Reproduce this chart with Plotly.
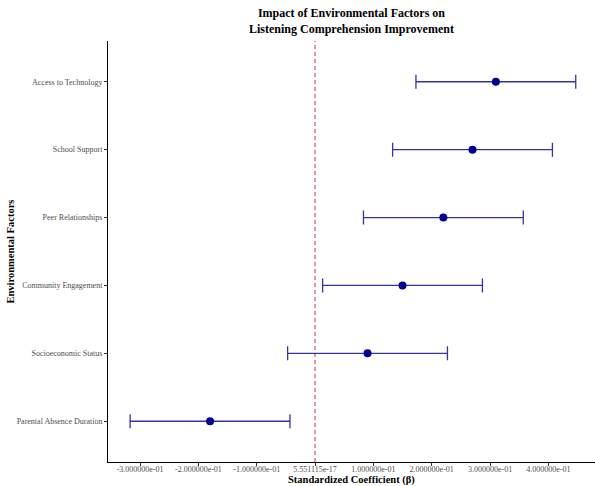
import plotly.graph_objects as go

# Environmental factors (bottom to top) with standardized coefficients and 95% CIs
factors = [
    "Parental Absence Duration",
    "Socioeconomic Status",
    "Community Engagement",
    "Peer Relationships",
    "School Support",
    "Access to Technology",
]
estimates = [-0.18, 0.09, 0.15, 0.22, 0.27, 0.31]
ci_lower = [-0.317, -0.047, 0.013, 0.083, 0.133, 0.173]
ci_upper = [-0.043, 0.227, 0.287, 0.357, 0.407, 0.447]

x_ticks = [-0.3, -0.2, -0.1, 5.551115e-17, 0.1, 0.2, 0.3, 0.4]
x_tick_labels = [
    "-3.000000e-01", "-2.000000e-01", "-1.000000e-01", "5.551115e-17",
    "1.000000e-01", "2.000000e-01", "3.000000e-01", "4.000000e-01",
]

ypos = list(range(1, len(factors) + 1))
err_plus = [u - e for u, e in zip(ci_upper, estimates)]
err_minus = [e - l for e, l in zip(estimates, ci_lower)]

serif = "Liberation Serif, Times New Roman, serif"
W, H = 595, 486
M_L, M_R, M_T, M_B = 108, 0, 41, 24
plot_w = W - M_L - M_R
plot_h = H - M_T - M_B

fig = go.Figure()

fig.add_trace(go.Scatter(
    x=estimates,
    y=ypos,
    mode="markers",
    marker=dict(color="#00008B", size=8),
    error_x=dict(
        type="data",
        symmetric=False,
        array=err_plus,
        arrayminus=err_minus,
        color="rgba(0,0,139,0.8)",
        thickness=1.3,
        width=7,
    ),
    showlegend=False,
    hoverinfo="skip",
))

# Reference line at zero effect
fig.add_shape(
    type="line", xref="x", yref="paper",
    x0=0, x1=0, y0=0, y1=1,
    line=dict(color="rgba(178,34,34,0.6)", width=1.5, dash="4px,3px"),
    layer="below",
)

axis_common = dict(
    showgrid=False,
    zeroline=False,
    showline=True,
    linecolor="black",
    linewidth=1,
    ticks="outside",
    ticklen=3,
    tickcolor="#333333",
    tickfont=dict(family=serif, size=8, color="#4d4d4d"),
    automargin=False,
)

fig.update_layout(
    width=W,
    height=H,
    margin=dict(l=M_L, r=M_R, t=M_T, b=M_B),
    paper_bgcolor="white",
    plot_bgcolor="white",
    font=dict(family=serif, color="#4d4d4d", size=8),
    xaxis=dict(
        range=[-0.355, 0.48],
        tickvals=x_ticks,
        ticktext=x_tick_labels,
        tickangle=0,
        ticklabelstandoff=-4,
        **axis_common,
    ),
    yaxis=dict(
        range=[0.4, 6.6],
        tickvals=ypos,
        ticktext=factors,
        **axis_common,
    ),
    annotations=[
        dict(
            text="<b>Impact of Environmental Factors on<br>Listening Comprehension Improvement</b>",
            xref="paper", yref="paper",
            x=0.5, y=1 + 3 / plot_h,
            xanchor="center", yanchor="bottom",
            showarrow=False,
            font=dict(family=serif, size=12, color="black"),
        ),
        dict(
            text="<b>Standardized Coefficient (β)</b>",
            xref="paper", yref="paper",
            x=0.5, y=-18 / plot_h,
            xanchor="center", yanchor="middle",
            showarrow=False,
            font=dict(family=serif, size=10.5, color="black"),
        ),
        dict(
            text="<b>Environmental Factors</b>",
            xref="paper", yref="paper",
            x=(10 - M_L) / plot_w, y=0.5,
            xanchor="center", yanchor="middle",
            textangle=-90,
            showarrow=False,
            font=dict(family=serif, size=10.5, color="black"),
        ),
    ],
)

fig.write_html("out.html")
